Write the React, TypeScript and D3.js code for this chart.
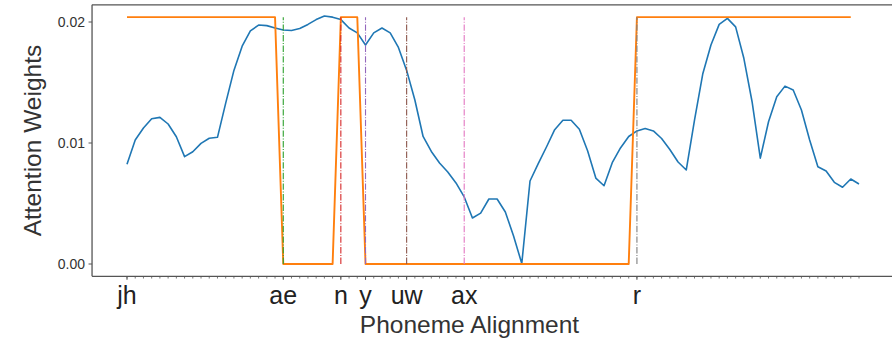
import React from "react";
import * as d3 from "d3";

const phonemes = ["jh", "ae", "n", "y", "uw", "ax", "r"];
const phonemeFrames = [0, 19, 26, 29, 34, 41, 62];
const boundaryColors = ["none", "#2ca02c", "#d62728", "#9467bd", "#8c564b", "#e377c2", "#7f7f7f"];

const attention = [
  0.00824, 0.01025, 0.01124, 0.0120, 0.01212, 0.01157, 0.01052, 0.00887, 0.00928, 0.00997,
  0.01039, 0.01047, 0.0133, 0.0160, 0.0180, 0.01926, 0.01975, 0.0197, 0.0195, 0.01934,
  0.0193, 0.01946, 0.0198, 0.0202, 0.0205, 0.0204, 0.0202, 0.0195, 0.0191, 0.0181,
  0.0191, 0.0195, 0.0191, 0.0179, 0.0160, 0.01355, 0.01054, 0.0093, 0.00835, 0.0076,
  0.0067, 0.00554, 0.0038, 0.0042, 0.00537, 0.00537, 0.0043, 0.00231, 0.00004, 0.00686,
  0.0083, 0.00967, 0.0111, 0.01188, 0.01188, 0.01113, 0.00936, 0.0071, 0.00647, 0.00837,
  0.00959, 0.01054, 0.0110, 0.0112, 0.0110, 0.01037, 0.00946, 0.00843, 0.00777, 0.0119,
  0.0157, 0.0181, 0.0198, 0.0203, 0.0196, 0.0170, 0.01341, 0.00875, 0.01176, 0.01383,
  0.0147, 0.01438, 0.01273, 0.01025, 0.00804, 0.00769, 0.00675, 0.00634, 0.00702, 0.00661,
];

const H = 0.0204;
const alignment = [
  H, H, H, H, H, H, H, H, H, H, H, H, H, H, H, H, H, H, H,
  0, 0, 0, 0, 0, 0, 0,
  H, H, H,
  0, 0, 0, 0, 0, 0, 0, 0, 0, 0, 0, 0, 0, 0, 0, 0, 0, 0, 0, 0, 0, 0, 0, 0, 0, 0, 0, 0, 0, 0, 0, 0, 0,
  H, H, H, H, H, H, H, H, H, H, H, H, H, H, H, H, H, H, H, H, H, H, H, H, H, H, H,
];

const yTicks = [0, 0.01, 0.02];
const yTickLabels = ["0.00", "0.01", "0.02"];

export default function App() {
  const W = 892;
  const Ht = 339;
  const x = d3.scaleLinear().domain([0, 89]).range([127, 859]);
  const y = d3.scaleLinear().domain([0, 0.02]).range([264, 22]);
  const xLeft = x(-4.25);
  const xRight = x(93.5);
  const yTop = y(0.02142);
  const yBot = y(-0.00102);
  const line = d3
    .line<number>()
    .x((_, i) => x(i))
    .y((d) => y(d));
  const frames = d3.range(attention.length);
  const spine = "#555";
  const font = "'Liberation Sans', Arial, sans-serif";

  return (
    <div style={{ position: "absolute", left: 0, top: 0 }}>
      <svg width={W} height={Ht} style={{ display: "block" }}>
        <rect x={0} y={0} width={W} height={Ht} fill="#fff" />
        <path d={line(attention) || ""} fill="none" stroke="#1f77b4" strokeWidth={1.6} strokeLinejoin="round" />
        <path d={line(alignment) || ""} fill="none" stroke="#ff7f0e" strokeWidth={1.9} strokeLinejoin="round" />
        {phonemeFrames.map((f, i) =>
          boundaryColors[i] === "none" ? null : (
            <line
              key={"v" + i}
              x1={x(f)}
              x2={x(f)}
              y1={y(0)}
              y2={y(H)}
              stroke={boundaryColors[i]}
              strokeWidth={1.1}
              strokeDasharray="6.4,1.6,1,1.6"
            />
          )
        )}
        {/* spines */}
        <line x1={xLeft} x2={xLeft} y1={yTop} y2={yBot} stroke={spine} strokeWidth={1.3} />
        <line x1={xLeft} x2={xRight} y1={yBot} y2={yBot} stroke={spine} strokeWidth={1.3} />
        <line x1={xLeft} x2={xRight} y1={yTop} y2={yTop} stroke={spine} strokeWidth={1.3} />
        <line x1={xRight} x2={xRight} y1={yTop} y2={yBot} stroke={spine} strokeWidth={1.3} />
        {/* y ticks */}
        {yTicks.map((t, i) => (
          <g key={"yt" + i}>
            <line x1={xLeft - 3.5} x2={xLeft} y1={y(t)} y2={y(t)} stroke={spine} strokeWidth={1} />
            <text x={xLeft - 7} y={y(t)} dy="0.36em" textAnchor="end" fontSize={14} fontFamily={font} fill="#333">
              {yTickLabels[i]}
            </text>
          </g>
        ))}
        {/* x minor ticks */}
        {frames.map((f) => (
          <line key={"xm" + f} x1={x(f)} x2={x(f)} y1={yBot} y2={yBot + 2.2} stroke={spine} strokeWidth={0.8} />
        ))}
        {phonemeFrames.map((f, i) => (
          <g key={"xt" + i}>
            <line x1={x(f)} x2={x(f)} y1={yBot} y2={yBot + 3.5} stroke={spine} strokeWidth={1} />
            <text x={x(f)} y={304} textAnchor="middle" fontSize={25} fontFamily={font} fill="#222">
              {phonemes[i]}
            </text>
          </g>
        ))}
        <text x={469.5} y={333} textAnchor="middle" fontSize={24.5} fontFamily={font} fill="#333">
          Phoneme Alignment
        </text>
        <text
          transform={`translate(41, ${(yTop + yBot) / 2}) rotate(-90)`}
          textAnchor="middle"
          fontSize={24.5}
          fontFamily={font}
          fill="#333"
        >
          Attention Weights
        </text>
      </svg>
    </div>
  );
}
